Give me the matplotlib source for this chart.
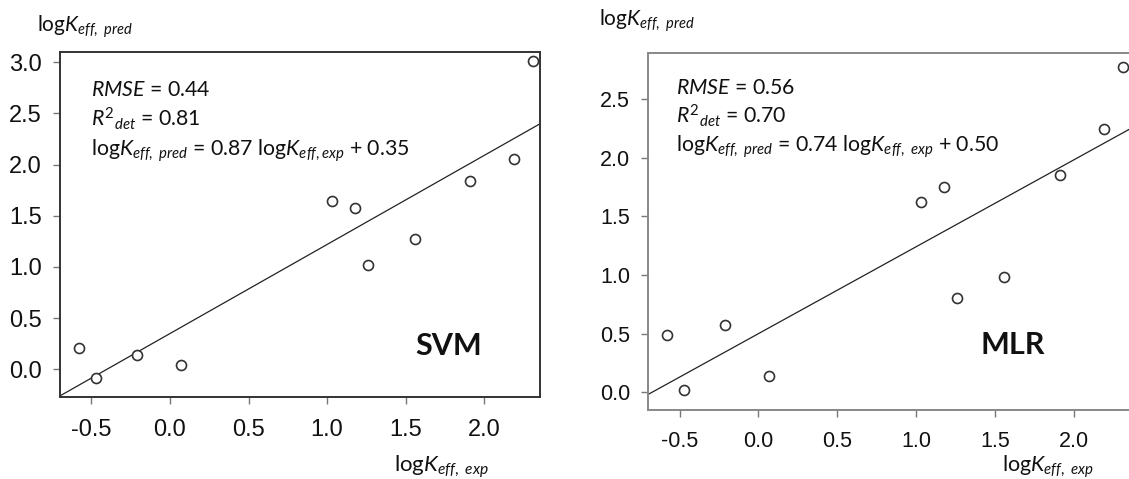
import numpy as np
import matplotlib
matplotlib.use("Agg")
import matplotlib.pyplot as plt

plt.rcParams['mathtext.fontset'] = 'custom'
plt.rcParams['mathtext.rm'] = 'Lato'
plt.rcParams['mathtext.it'] = 'Lato:italic'
plt.rcParams['mathtext.bf'] = 'Lato:bold'

# datos
log_k_exp = [-0.58, -0.47, -0.21, 0.07, 1.03, 1.18, 1.26, 1.56, 1.91, 2.19, 2.31]
svm_pred = [0.21, -0.08, 0.14, 0.04, 1.64, 1.58, 1.02, 1.27, 1.84, 2.05, 3.01]
mlr_pred = [0.49, 0.02, 0.57, 0.14, 1.62, 1.75, 0.80, 0.98, 1.85, 2.24, 2.77]

svm_fit = (0.87, 0.35)
mlr_fit = (0.74, 0.50)
svm_stats = ["$RMSE$ = 0.44", "$R^2{}_{det}$ = 0.81",
             r"log$K_{eff,\ pred}$ = 0.87 log$K_{eff,exp}$ + 0.35"]
mlr_stats = ["$RMSE$ = 0.56", "$R^2{}_{det}$ = 0.70",
             r"log$K_{eff,\ pred}$ = 0.74 log$K_{eff,\ exp}$ + 0.50"]

x_ticks = [-0.5, 0.0, 0.5, 1.0, 1.5, 2.0]
svm_yticks = [0.0, 0.5, 1.0, 1.5, 2.0, 2.5, 3.0]
mlr_yticks = [0.0, 0.5, 1.0, 1.5, 2.0, 2.5]

W, H = 1129, 479
fig = plt.figure(figsize=(W / 100, H / 100), dpi=100)


def box(l, t, r, b):
    return [l / W, 1 - b / H, (r - l) / W, (b - t) / H]


def panel(rect, y, fit, stats, name, xlim, ylim, yticks, spine_col, tick_fs,
          xpad, name_xy, text_xy):
    ax = fig.add_axes(rect)
    ax.set_xlim(*xlim)
    ax.set_ylim(*ylim)
    xx = np.array(xlim)
    ax.plot(xx, fit[0] * xx + fit[1], color='#222222', lw=0.9)
    ax.plot(log_k_exp, y, 'o', mfc='white', mec='#333333', mew=1.2, ms=7.2,
            clip_on=False)
    ax.set_xticks(x_ticks)
    ax.set_yticks(yticks)
    ax.set_xticklabels([f"{v:.1f}" for v in x_ticks])
    ax.set_yticklabels([f"{v:.1f}" for v in yticks])
    for lab in ax.get_xticklabels() + ax.get_yticklabels():
        lab.set_family('Liberation Sans')
        lab.set_fontsize(tick_fs)
        lab.set_color('#111111')
    ax.tick_params(direction='out', length=5, width=1, color='#777777')
    ax.tick_params(axis='x', pad=xpad)
    ax.tick_params(axis='y', pad=8)
    for s in ax.spines.values():
        s.set_color(spine_col)
        s.set_linewidth(1.4)
    tx, ty, dy = text_xy
    for i, s in enumerate(stats):
        ax.text(tx, ty - i * dy, s, family='Lato', fontsize=15.3,
                va='baseline', ha='left', color='#111111')
    ax.text(name_xy[0], name_xy[1], name, family='Lato', fontsize=22,
            fontweight='bold', va='baseline', ha='left', color='#111111')
    return ax


ax1 = panel(box(60, 52, 540, 397), svm_pred, svm_fit, svm_stats, 'SVM',
            (-0.70, 2.355), (-0.27, 3.10), svm_yticks, '#333333', 17, 11,
            (1.56, 0.14), (-0.50, 2.67, 0.29))

ax2 = panel(box(648, 53, 1129, 410), mlr_pred, mlr_fit, mlr_stats, 'MLR',
            (-0.70, 2.35), (-0.15, 2.89), mlr_yticks, '#888888', 15.5, 10,
            (1.41, 0.33), (-0.52, 2.54, 0.245))
ax2.spines['right'].set_visible(False)

fig.text(37 / W, 1 - 32 / H, r"log$K_{eff,\ pred}$", family='Lato',
         fontsize=15, va='baseline', color='#111111')
fig.text(599 / W, 1 - 26 / H, r"log$K_{eff,\ pred}$", family='Lato',
         fontsize=15, va='baseline', color='#111111')
fig.text(394 / W, 1 - 472 / H, r"log$K_{eff,\ exp}$", family='Lato',
         fontsize=16, va='baseline', color='#111111')
fig.text(1002 / W, 1 - 472 / H, r"log$K_{eff,\ exp}$", family='Lato',
         fontsize=15.5, va='baseline', color='#111111')

fig.savefig('out.png', dpi=100, facecolor='white')
